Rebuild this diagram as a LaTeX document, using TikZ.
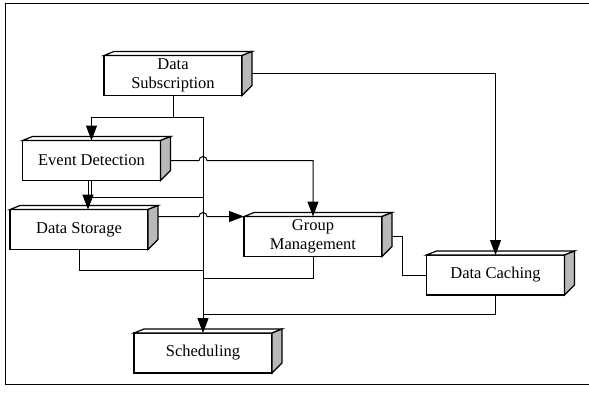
\documentclass[tikz,border=0pt]{standalone}
\usepackage{fontspec}
\setmainfont{Liberation Serif}
\usetikzlibrary{arrows.meta,calc,positioning}
\tikzset{
    >={Triangle[width=11pt,length=15pt]},
    kasse/.style={
           rectangle,
           draw=black, line width=1.2pt,
           fill=white,
           minimum width=138pt,
           minimum height=40pt,
           inner sep=0pt, outer sep=0pt,
           align=center,
           font=\fontsize{16.5}{19}\selectfont},
    pil/.style={
           ->,
           line width=1pt},
    linje/.style={
           line width=1pt}
}
% top and right face of a box
\newcommand{\kasseside}[1]{%
    \filldraw[fill=white, line width=1.2pt] (#1.north west) -- ++(10,-4)
        -- ($(#1.north east)+(10,-4)$) -- (#1.north east) -- cycle;
    \filldraw[fill=gray!55, line width=1.2pt] (#1.north east) -- ++(10,-4)
        -- ($(#1.south east)+(10,-10)$) -- (#1.south east) -- cycle;}

\begin{document}
\begin{tikzpicture}[x=1pt, y=-1pt]
        \useasboundingbox (0,0) rectangle (589,394);
        \draw[line width=0.8pt] (589,3) -- (5,3) -- (5,384) -- (589,384);

        \node[kasse] (ds) at (173,75.5) {Data\\Subscription};
        \node[kasse] (ed) at (91.5,160.5) {Event Detection};
        \node[kasse] (dst) at (79,229.5) {Data Storage};
        \node[kasse] (gm) at (313,236.5) {Group\\Management};
        \node[kasse] (dc) at (495.5,275) {Data Caching};
        \node[kasse] (sch) at (203,353) {Scheduling};

        \kasseside{ds}
        \kasseside{ed}
        \kasseside{dst}
        \kasseside{gm}
        \kasseside{dc}
        \kasseside{sch}

        % bus and its joints
        \coordinate (b0) at (203,117);
        \coordinate (j1) at (203,197);
        \coordinate (j2) at (203,270);
        \coordinate (j3) at (203,278);
        \coordinate (j4) at (203,314);

        \coordinate (ds-side) at ($(ds.east)+(10,-2.5)$);
        \coordinate (ed-side) at ($(ed.east)+(10,0)$);
        \coordinate (dst-side) at ($(dst.east |- gm.north)+(10,0)$);
        \coordinate (gm-side) at ($(gm.east)+(10,0)$);
        \coordinate (e1) at ($(ed.south)+(-3.5,0)$);
        \coordinate (hop1) at ($(b0 |- ed-side)+(-4,0)$);
        \coordinate (hop2) at ($(b0 |- dst-side)+(-4,0)$);

        \draw[linje] (ds.south) -- (ds.south |- b0);
        \draw[pil] (b0) -| (ed.north);
        \draw[pil] (b0) -- (sch.north);
        \draw[pil] (e1) -- (e1 |- dst.north);

        \draw[linje] (ed.south) |- (j1);
        \draw[linje] (dst.south) |- (j2);
        \draw[linje] (gm.south) |- (j3);
        \draw[linje] (dc.south) |- (j4);

        \draw[pil] (ds-side) -| (dc.north);
        \draw[pil] (ed-side) -- (hop1) arc[start angle=180, end angle=360, radius=4] -| (gm.north);
        \draw[pil] (dst-side) -- (hop2) arc[start angle=180, end angle=360, radius=4] -- (gm.north west);
        \draw[linje] (gm-side) -- ++(10,0) |- (dc.west);
\end{tikzpicture}
\end{document}
